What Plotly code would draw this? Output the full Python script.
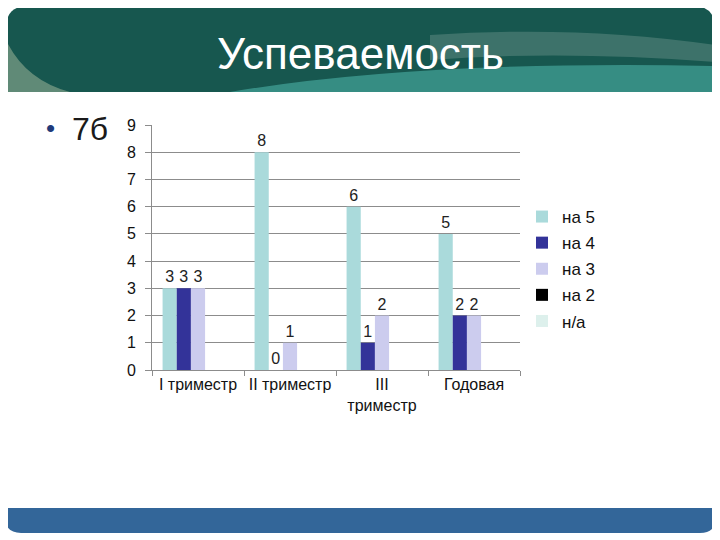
import plotly.graph_objects as go

categories = ["I триместр", "II триместр", "III<br>триместр", "Годовая"]
series_names = ["на 5", "на 4", "на 3", "на 2", "н/а"]
na5 = [3, 8, 6, 5]
na4 = [3, 0, 1, 2]
na3 = [3, 1, 2, 2]
na2 = [None, None, None, None]
nna = [None, None, None, None]
series_values = [na5, na4, na3, na2, nna]
colors = ["#AADADB", "#333399", "#CCCCEE", "#000000", "#DDF0EC"]
y_ticks = list(range(0, 10))

# page body has an 8px margin; work in screen pixels and shift
OFF = 8
W, H = 720, 540
L, R, T, B = 152 - OFF, 520 - OFF, 125 - OFF, 370 - OFF

def px(x):
    return (x - OFF - L) / (R - L)

def py(y):
    return (B - (y - OFF)) / (B - T)

fig = go.Figure()
for i, (name, vals, col) in enumerate(zip(series_names, series_values, colors)):
    fig.add_trace(go.Bar(
        x=categories, y=vals, name=name,
        marker=dict(color=col, line=dict(width=0)),
        text=[("" if v is None else str(v)) for v in vals],
        textposition="outside",
        textfont=dict(family="Liberation Sans, Arial", size=16, color="#222222"),
        cliponaxis=False,
        legendgroup=f"g{i}",
    ))

shapes = []
r = 22
shapes.append(dict(
    type="path", xref="paper", yref="paper",
    path=(f"M {px(6)},{py(92)} L {px(715)},{py(92)} L {px(715)},{py(6+r)} "
          f"Q {px(715)},{py(6)} {px(715-r)},{py(6)} L {px(6+r)},{py(6)} "
          f"Q {px(6)},{py(6)} {px(6)},{py(6+r)} Z"),
    fillcolor="#17574F", line=dict(width=0), layer="below"))
shapes.append(dict(
    type="path", xref="paper", yref="paper",
    path=(f"M {px(6)},{py(40)} Q {px(25)},{py(80)} {px(70)},{py(92)} L {px(6)},{py(92)} Z"),
    fillcolor="rgba(170,190,160,0.5)", line=dict(width=0), layer="below"))
shapes.append(dict(
    type="path", xref="paper", yref="paper",
    path=(f"M {px(230)},{py(92)} Q {px(420)},{py(60)} {px(715)},{py(66)} "
          f"L {px(715)},{py(92)} Z"),
    fillcolor="rgba(80,185,175,0.55)", line=dict(width=0), layer="below"))
shapes.append(dict(
    type="path", xref="paper", yref="paper",
    path=(f"M {px(430)},{py(35)} Q {px(580)},{py(25)} {px(715)},{py(45)} "
          f"L {px(715)},{py(62)} Q {px(560)},{py(50)} {px(430)},{py(60)} Z"),
    fillcolor="rgba(150,180,170,0.3)", line=dict(width=0), layer="below"))
fr = 16
shapes.append(dict(
    type="path", xref="paper", yref="paper",
    path=(f"M {px(5)},{py(508)} L {px(716)},{py(508)} L {px(716)},{py(533-fr)} "
          f"Q {px(716)},{py(533)} {px(716-fr)},{py(533)} L {px(5+fr)},{py(533)} "
          f"Q {px(5)},{py(533)} {px(5)},{py(533-fr)} Z"),
    fillcolor="#336699", line=dict(width=0), layer="below"))

annotations = [
    dict(text="Успеваемость", x=px(360), y=py(53), xref="paper", yref="paper",
         showarrow=False, xanchor="center", yanchor="middle",
         font=dict(family="Liberation Sans, Arial", size=44, color="white")),
    dict(text="•", x=px(50), y=py(128), xref="paper", yref="paper",
         showarrow=False, xanchor="center", yanchor="middle",
         font=dict(family="Liberation Sans, Arial", size=26, color="#1F3A7A")),
    dict(text="7б", x=px(70), y=py(129), xref="paper", yref="paper",
         showarrow=False, xanchor="left", yanchor="middle",
         font=dict(family="Liberation Sans, Arial", size=32, color="#1a1a1a")),
]

fig.update_layout(
    width=W, height=H,
    margin=dict(l=L, r=W - R, t=T, b=H - B),
    paper_bgcolor="white", plot_bgcolor="white",
    barmode="group", bargap=0.23, bargroupgap=0,
    font=dict(family="Liberation Sans, Arial", color="#111111"),
    shapes=shapes, annotations=annotations,
    showlegend=True,
    legend=dict(x=px(522), y=py(199), xanchor="left", yanchor="top",
                font=dict(size=17, color="#111111"), tracegroupgap=1,
                bgcolor="rgba(0,0,0,0)"),
    xaxis=dict(type="category", showgrid=False, showline=True, linecolor="#8c8c8c",
               ticks="outside", tickson="boundaries", ticklen=5, tickcolor="#8c8c8c",
               tickfont=dict(size=16, color="#111111"), range=[-0.5, 3.5]),
    yaxis=dict(range=[0, 9], tickvals=y_ticks, showgrid=True, gridcolor="#8c8c8c",
               showline=True, linecolor="#8c8c8c", ticks="outside", ticklen=6,
               tickcolor="#8c8c8c", tickfont=dict(size=16, color="#111111"),
               zeroline=False, ticklabelstandoff=6),
)

fig.write_html("out.html")
